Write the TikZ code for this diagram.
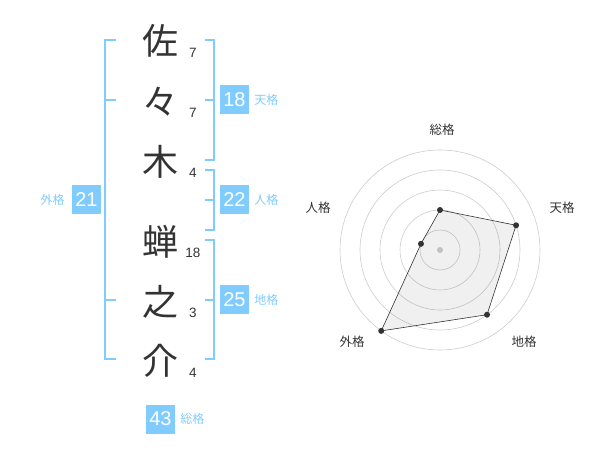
\documentclass[tikz,border=0pt]{standalone}
\usepackage{fontspec}
\setmainfont{Liberation Sans}
\newfontfamily\jpfont{Noto Sans CJK JP}
\usetikzlibrary{positioning}
\definecolor{kakusky}{HTML}{80CCFF}
\definecolor{inkgray}{HTML}{333333}

\begin{document}
\begin{tikzpicture}[x=1pt,y=-1pt,
  kanji/.style={font=\jpfont\fontsize{36}{36}\selectfont, text=inkgray, inner sep=0pt},
  stroke/.style={font=\fontsize{13.5}{13.5}\selectfont, text=inkgray, inner sep=0pt},
  kakubox/.style={fill=kakusky, text=white, minimum size=29pt, inner sep=0pt, font=\fontsize{20}{20}\selectfont},
  kakulabel/.style={text=kakusky, font=\jpfont\fontsize{12}{12}\selectfont, inner sep=0pt},
  bracket/.style={draw=kakusky, line width=1.5pt},
  ring/.style={draw=black!20, line width=0.6pt},
  axislabel/.style={font=\jpfont\fontsize{12.5}{12.5}\selectfont, text=inkgray, inner sep=0pt}]
  \useasboundingbox (0,0) rectangle (600,470);

  % name, one character per row
  \node[kanji] (sa) at (160,41) {佐};
  \node[kanji] (noma) at (160,102) {々};
  \node[kanji] (ki) at (160,162) {木};
  \node[kanji] (semi) at (160,242) {蝉};
  \node[kanji] (no) at (160,302) {之};
  \node[kanji] (suke) at (160,361) {介};

  \node[stroke] at (193,53) {7};
  \node[stroke] at (193,113) {7};
  \node[stroke] at (193,173) {4};
  \node[stroke] at (193,253) {18};
  \node[stroke] at (193,313) {3};
  \node[stroke] at (193,373) {4};

  % brackets
  \draw[bracket] (116,40) -- (105,40) -- (105,359) -- (116,359);
  \draw[bracket] (105,100) -- (116,100);
  \draw[bracket] (105,300) -- (116,300);
  \draw[bracket] (205,40) -- (214,40) -- (214,160) -- (205,160);
  \draw[bracket] (214,100) -- (205,100);
  \draw[bracket] (205,170) -- (214,170) -- (214,230) -- (205,230);
  \draw[bracket] (214,200) -- (205,200);
  \draw[bracket] (205,240) -- (214,240) -- (214,359) -- (205,359);
  \draw[bracket] (214,300) -- (205,300);

  % scores
  \node[kakubox] (ten) at (234.5,100) {18};
  \node[kakulabel, right=5pt of ten] {天格};
  \node[kakubox] (jin) at (234.5,200) {22};
  \node[kakulabel, right=5pt of jin] {人格};
  \node[kakubox] (chi) at (234.5,300) {25};
  \node[kakulabel, right=5pt of chi] {地格};
  \node[kakubox] (gai) at (86.5,200) {21};
  \node[kakulabel, left=7pt of gai] {外格};
  \node[kakubox] (sou) at (160.5,419) {43};
  \node[kakulabel, right=5pt of sou] {総格};

  % radar chart
  \coordinate (radar) at (440,250);
  \foreach \r in {20,40,...,100}
    \draw[ring] (radar) circle (\r pt);
  \fill[black!20] (radar) circle (3pt);
  \path (radar) ++(90:40pt) coordinate (psou)
        (radar) ++(18:80pt) coordinate (pten)
        (radar) ++(-54:80pt) coordinate (pchi)
        (radar) ++(-126:100pt) coordinate (pgai)
        (radar) ++(162:20pt) coordinate (pjin);
  \filldraw[fill=black, fill opacity=0.06, draw=inkgray, line width=0.6pt]
    (psou) -- (pten) -- (pchi) -- (pgai) -- (pjin) -- cycle;
  \foreach \p in {psou,pten,pchi,pgai,pjin}
    \fill[inkgray] (\p) circle (3pt);

  \node[axislabel] at (442,130) {総格};
  \node[axislabel] at (562,208) {天格};
  \node[axislabel] at (524,342) {地格};
  \node[axislabel] at (352,342) {外格};
  \node[axislabel] at (318,208) {人格};
\end{tikzpicture}
\end{document}
